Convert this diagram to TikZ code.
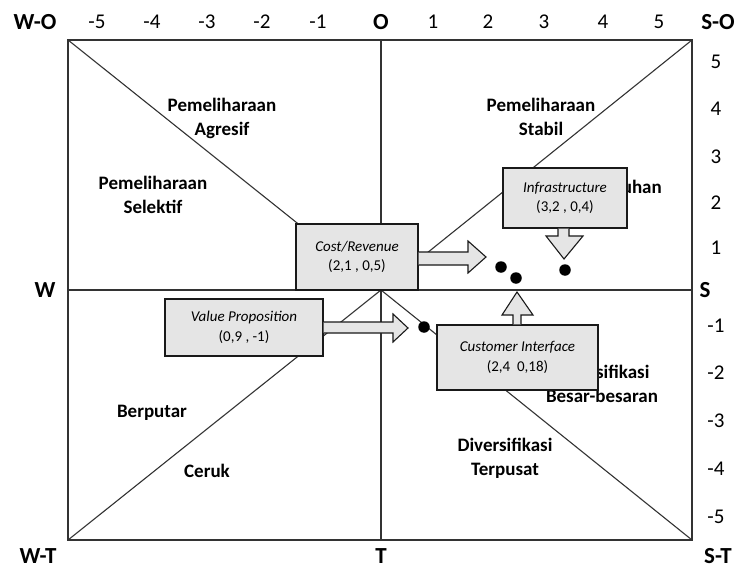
\documentclass[tikz,border=0pt]{standalone}
\usepackage{fontspec}
\setmainfont{Carlito}
\begin{document}
\begin{tikzpicture}[x=1pt,y=-1pt,
  gridline/.style={line width=1.1pt,draw=black!80},
  quadlabel/.style={font=\fontsize{19}{24}\selectfont\bfseries,align=center,inner sep=0pt},
  axislabel/.style={font=\fontsize{21}{22}\selectfont,inner sep=0pt},
  cornerlabel/.style={font=\fontsize{23}{24}\selectfont\bfseries,inner sep=0pt},
  infobox/.style={draw=black!90,line width=1.1pt,fill=black!10,align=center,inner sep=0pt,
    font=\fontsize{15}{19.5}\selectfont},
  blockarrow/.style={draw=black!90,line width=1.1pt,fill=black!10,line join=miter},
  dotmark/.style={circle,fill=black,inner sep=0pt,minimum size=11.5pt}]
\useasboundingbox (0,0) rectangle (737,570);
\fill[white] (0,0) rectangle (737,570);

% frame and axes
\coordinate (TL) at (68,40);
\coordinate (TR) at (692,40);
\coordinate (BL) at (68,540);
\coordinate (BR) at (692,540);
\coordinate (C) at (381,290);
\coordinate (Tm) at (381,40);
\coordinate (Bm) at (381,540);
\coordinate (Lm) at (68,290);
\coordinate (Rm) at (692,290);
\draw[gridline] (TL) rectangle (BR);
\draw[gridline] (Tm) -- (Bm);
\draw[gridline] (Lm) -- (Rm);
\draw[gridline] (TL) -- (C);
\draw[gridline] (TR) -- (C);
\draw[gridline] (BL) -- (C);
\draw[gridline] (BR) -- (C);

% corner / axis letters
\node[cornerlabel] (wo) at (35,22) {W-O};
\node[cornerlabel] (so) at (718,22) {S-O};
\node[cornerlabel] (wt) at (38,556) {W-T};
\node[cornerlabel] (st) at (718,556) {S-T};
\node[cornerlabel] (o) at (381,22) {O};
\node[cornerlabel] (t) at (381,556) {T};
\node[cornerlabel] (w) at (45,290) {W};
\node[cornerlabel] (s) at (705,290) {S};

% top numbers
\node[axislabel] (xm5) at (97,22) {-5};
\node[axislabel] (xm4) at (152,22) {-4};
\node[axislabel] (xm3) at (207,22) {-3};
\node[axislabel] (xm2) at (262,22) {-2};
\node[axislabel] (xm1) at (318,22) {-1};
\node[axislabel] (xp1) at (433,22) {1};
\node[axislabel] (xp2) at (488,22) {2};
\node[axislabel] (xp3) at (544,22) {3};
\node[axislabel] (xp4) at (603,22) {4};
\node[axislabel] (xp5) at (659,22) {5};

% right numbers
\node[axislabel] (yp5) at (716,62) {5};
\node[axislabel] (yp4) at (716,109) {4};
\node[axislabel] (yp3) at (716,157) {3};
\node[axislabel] (yp2) at (716,203) {2};
\node[axislabel] (yp1) at (716,248) {1};
\node[axislabel] (ym1) at (716,326) {-1};
\node[axislabel] (ym2) at (716,373) {-2};
\node[axislabel] (ym3) at (716,421) {-3};
\node[axislabel] (ym4) at (716,469) {-4};
\node[axislabel] (ym5) at (716,517) {-5};

% quadrant labels
\node[quadlabel] (agresif) at (222,118) {Pemeliharaan\\Agresif};
\node[quadlabel] (selektif) at (153,195) {Pemeliharaan\\Selektif};
\node[quadlabel] (stabil) at (541,117) {Pemeliharaan\\Stabil};
\node[quadlabel,anchor=east] (tumbuh) at (662,187) {Pertumbuhan};
\node[quadlabel] (besar) at (602,384) {Diversifikasi\\Besar-besaran};
\node[quadlabel] (berputar) at (152,413) {Berputar};
\node[quadlabel] (ceruk) at (207,471) {Ceruk};
\node[quadlabel] (terpusat) at (505,458) {Diversifikasi\\Terpusat};

% dots
\node[dotmark] (d1) at (501,267) {};
\node[dotmark] (d2) at (516,278) {};
\node[dotmark] (d3) at (565,270) {};
\node[dotmark] (d4) at (424,327) {};

% boxes
\node[infobox,minimum width=122pt,minimum height=66pt] (cr) at (357,257)
  {\itshape Cost/Revenue\\(2,1 , 0,5)};
\node[infobox,minimum width=158pt,minimum height=57pt] (vp) at (244,327.5)
  {\itshape Value Proposition\\(0,9 , -1)};
\node[infobox,minimum width=124pt,minimum height=60pt] (inf) at (565,198)
  {\itshape Infrastructure\\(3,2 , 0,4)};
\node[infobox,minimum width=161pt,minimum height=65pt] (ci) at (517.5,357.5)
  {\itshape Customer Interface\\(2,4~~0,18)};

% block arrows
\draw[blockarrow] (cr.east |- 0,252) -- (468,252) -- (468,241) -- (486,257) -- (468,273) -- (468,265) -- (cr.east |- 0,265);
\draw[blockarrow] (vp.east |- 0,322) -- (393,322) -- (393,314) -- (408,328) -- (393,342) -- (393,333) -- (vp.east |- 0,333);
\draw[blockarrow] (558,0 |- inf.south) -- (558,236) -- (546,236) -- (564,259) -- (583,236) -- (569,236) -- (569,0 |- inf.south);
\draw[blockarrow] (513,0 |- ci.north) -- (513,315) -- (502,315) -- (517,292) -- (533,315) -- (521,315) -- (521,0 |- ci.north);
\end{tikzpicture}
\end{document}
